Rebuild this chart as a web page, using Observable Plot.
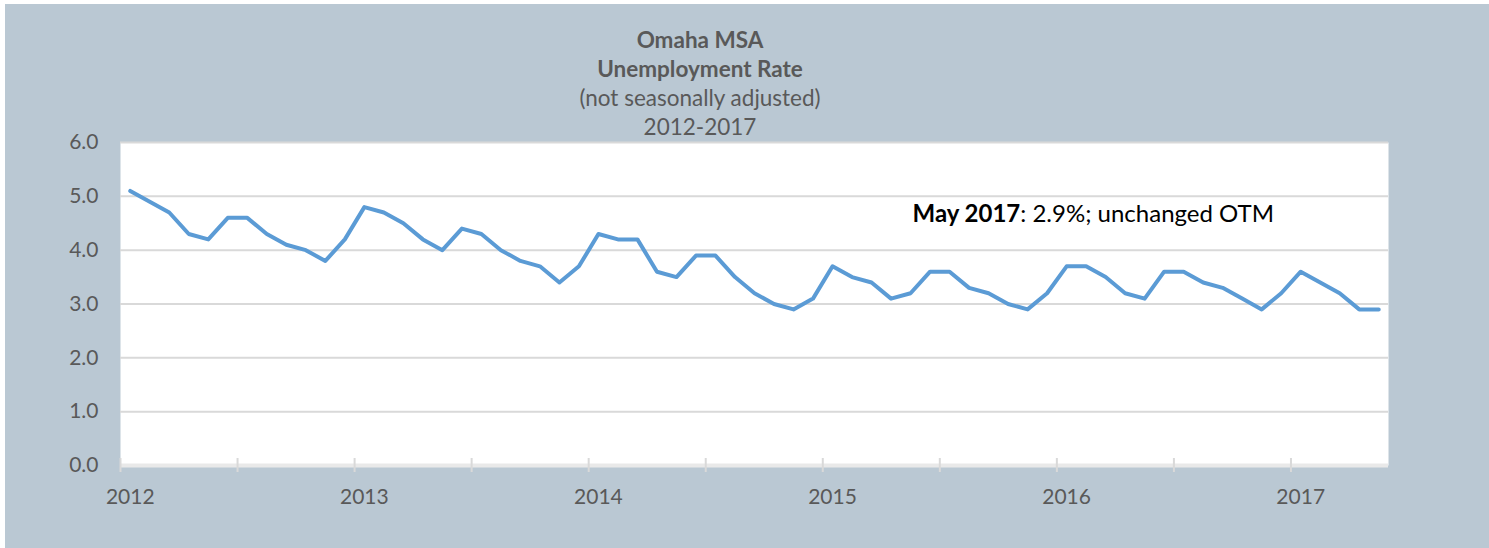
<!DOCTYPE html>
<html>
<head>
<meta charset="utf-8">
<script src="https://cdn.jsdelivr.net/npm/d3@7"></script>
<script src="https://cdn.jsdelivr.net/npm/@observablehq/plot@0.6"></script>
<style>
  html, body { margin: 0; padding: 0; background: #ffffff; }
  #wrap { position: relative; width: 1489px; height: 548px; overflow: hidden; background: #ffffff; }
  #bg { position: absolute; left: 5px; top: 4px; width: 1484px; height: 544px; background: #bac8d3; }
  #chart { position: absolute; left: 0; top: 0; }
  #title { position: absolute; left: 0; top: 25px; width: 1400px; text-align: center;
           font-family: Lato, "Open Sans", sans-serif; font-size: 22.5px; line-height: 29px; color: #595959; }
  #title b { font-weight: 700; }
</style>
</head>
<body>
<div id="wrap">
  <div id="bg"></div>
  <div id="chart"></div>
  <div id="title"></div>
</div>
<script>
// ---- data ----
const titleLines = ["Omaha MSA", "Unemployment Rate", "(not seasonally adjusted)", "2012-2017"];
const yearLabels = ["2012", "2013", "2014", "2015", "2016", "2017"];
const monthNames = ["Jan","Feb","Mar","Apr","May","Jun","Jul","Aug","Sep","Oct","Nov","Dec"];
const rates2012 = [5.1, 4.9, 4.7, 4.3, 4.2, 4.6, 4.6, 4.3, 4.1, 4.0, 3.8, 4.2];
const rates2013 = [4.8, 4.7, 4.5, 4.2, 4.0, 4.4, 4.3, 4.0, 3.8, 3.7, 3.4, 3.7];
const rates2014 = [4.3, 4.2, 4.2, 3.6, 3.5, 3.9, 3.9, 3.5, 3.2, 3.0, 2.9, 3.1];
const rates2015 = [3.7, 3.5, 3.4, 3.1, 3.2, 3.6, 3.6, 3.3, 3.2, 3.0, 2.9, 3.2];
const rates2016 = [3.7, 3.7, 3.5, 3.2, 3.1, 3.6, 3.6, 3.4, 3.3, 3.1, 2.9, 3.2];
const rates2017 = [3.6, 3.4, 3.2, 2.9, 2.9];
const yTicks = [0, 1, 2, 3, 4, 5, 6];
const annotBold = "May 2017";
const annotRest = ": 2.9%; unchanged OTM";
const annotAt = {x: 40.1, y: 4.66};

// ---- build table ----
const allRates = [rates2012, rates2013, rates2014, rates2015, rates2016, rates2017];
const data = [];
allRates.forEach((arr, yi) => arr.forEach((v, mi) => {
  data.push({i: yi * 12 + mi, rate: v, label: monthNames[mi] + " " + yearLabels[yi]});
}));
const n = data.length;
const yearTicks = yearLabels.map((d, k) => k * 12);
const halfYearTicks = d3.range(-0.5, n - 0.5, 6);

// title
const t = document.getElementById("title");
titleLines.forEach((s, k) => {
  const div = document.createElement("div");
  if (k < 2) { const b = document.createElement("b"); b.textContent = s; div.appendChild(b); }
  else div.textContent = s;
  t.appendChild(div);
});

const plot = Plot.plot({
  width: 1489,
  height: 548,
  marginTop: 142,
  marginBottom: 83,
  marginLeft: 120,
  marginRight: 101,
  style: {background: "transparent", fontFamily: "Lato, 'Open Sans', sans-serif", fontSize: "21px", color: "#595959"},
  x: {type: "linear", domain: [-0.5, n - 0.5], ticks: yearTicks, tickFormat: d => yearLabels[d / 12],
      tickSize: 0, tickPadding: 24, label: null},
  y: {domain: [0, 6], ticks: yTicks, tickFormat: d => d.toFixed(1), tickSize: 0, tickPadding: 22, label: null},
  marks: [
    Plot.frame({fill: "white", stroke: "none"}),
    Plot.ruleY(yTicks.filter(d => d > 0), {stroke: "#d9d9d9", strokeWidth: 2}),
    Plot.ruleY([0], {stroke: "#e9e9e9", strokeWidth: 4}),
    Plot.ruleX(halfYearTicks, {x: d => d, y1: 0, y2: 0, insetTop: -7, insetBottom: -7, stroke: "#d9d9d9", strokeWidth: 2}),
    Plot.line(data, {x: "i", y: "rate", stroke: "#5b9bd5", strokeWidth: 4, strokeLinejoin: "round", strokeLinecap: "round"}),
    Plot.text([annotAt], {x: "x", y: "y", text: () => annotBold + annotRest, textAnchor: "start",
      fontSize: 24, fill: "#000000"})
  ]
});
document.getElementById("chart").appendChild(plot);

// style the annotation with a bold lead-in
const annot = d3.select(plot).selectAll("g[aria-label='text'] text");
annot.each(function() {
  const el = d3.select(this);
  el.text(null);
  el.append("tspan").attr("font-weight", "bold").text(annotBold);
  el.append("tspan").text(annotRest);
});
</script>
</body>
</html>
